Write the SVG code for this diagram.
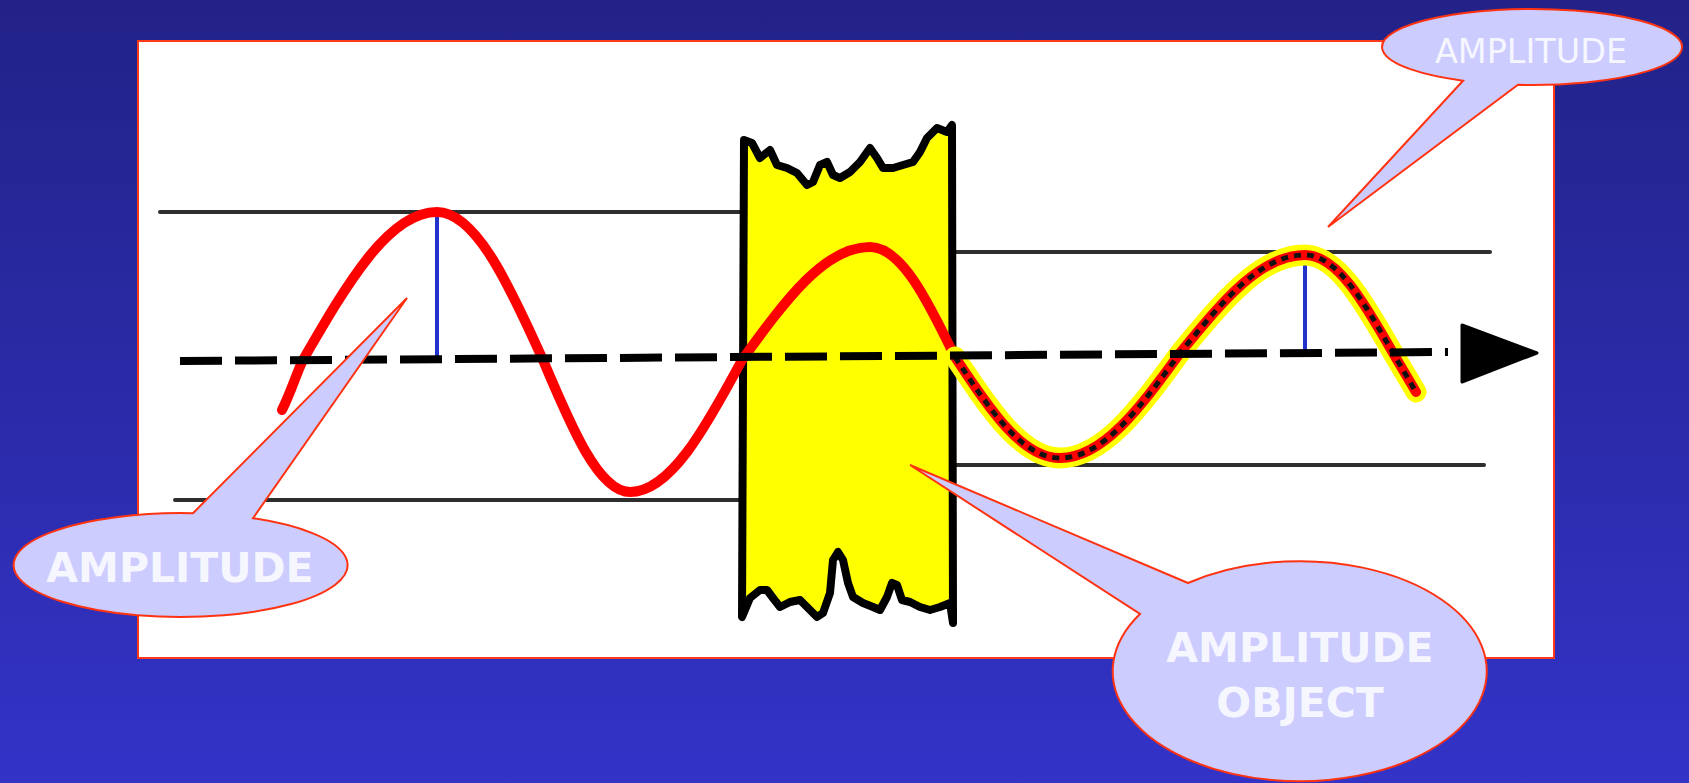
<svg xmlns="http://www.w3.org/2000/svg" width="1689" height="783" viewBox="0 0 1689 783">
  <defs>
    <linearGradient id="bg" x1="0" y1="0" x2="0" y2="1">
      <stop offset="0" stop-color="#222288"/>
      <stop offset="1" stop-color="#3333c8"/>
    </linearGradient>
  </defs>
  <style>
    .guide { stroke: #2e2e2e; stroke-width: 4; fill: none; stroke-linecap: round; }
    .wave { stroke: #ff0000; stroke-width: 10; fill: none; stroke-linecap: round; stroke-linejoin: round; }
    .glow { stroke: #ffff00; stroke-width: 21; fill: none; stroke-linecap: round; }
    .dots { stroke: #111; stroke-width: 5; fill: none; stroke-dasharray: 7 6; }
    .amp { stroke: #2233cc; stroke-width: 4; fill: none; }
    .axis { stroke: #000; stroke-width: 8; fill: none; stroke-dasharray: 42 13; }
    .bubble { fill: #ccccff; stroke: #ff3311; stroke-width: 2; stroke-linejoin: miter; }
    .label { fill: #f6f6ff; font-family: "DejaVu Sans", Verdana, sans-serif; text-anchor: middle; }
    .bold { font-weight: bold; font-size: 41px; }
  </style>

  <!-- backdrop -->
  <rect x="0" y="0" width="1689" height="783" fill="url(#bg)"/>

  <!-- white panel -->
  <g id="panel">
    <rect x="138" y="41" width="1416" height="617" fill="#ffffff" stroke="#ff3a1a" stroke-width="2"/>
  </g>

  <!-- amplitude guide lines -->
  <g id="guides">
    <line class="guide" x1="160" y1="212" x2="744" y2="212"/>
    <line class="guide" x1="175" y1="500" x2="744" y2="500"/>
    <line class="guide" x1="953" y1="252" x2="1490" y2="252"/>
    <line class="guide" x1="953" y1="465" x2="1484" y2="465"/>
  </g>

  <!-- the object the wave passes through -->
  <g id="object">
    <path d="M744,140 L752,143 L760,158 L770,150 L777,165 L787,168 L797,173 L807,185 L813,182 L820,165 L827,162 L833,175 L840,178 L850,172 L860,162 L870,148 L877,158 L883,168 L893,168 L903,165 L913,162 L920,152 L927,138 L937,128 L947,132 L952,125 L953,623 L950,603 L940,607 L930,610 L920,607 L910,602 L902,600 L897,585 L892,583 L887,597 L880,610 L873,607 L863,603 L853,597 L848,583 L843,560 L838,552 L833,560 L830,593 L823,613 L817,617 L807,607 L800,600 L790,602 L780,607 L773,598 L767,590 L760,590 L750,598 L742,617 Z" fill="#ffff00" stroke="#000" stroke-width="8" stroke-linejoin="round"/>
  </g>

  <!-- amplitude markers -->
  <g id="markers">
    <line class="amp" x1="437" y1="214" x2="437" y2="360"/>
    <line class="amp" x1="1305" y1="256" x2="1305" y2="353"/>
  </g>

  <!-- wave before and inside the object -->
  <g id="wave-in">
    <path class="wave" d="M282,410 C291,392 297,372 303,360 C348,282 389,212 437,212 C475,212 508,282 543,360 C572,429 599,492 630,492 C670,492 705,429 742,360 C785,301 824,247 870,247 C901,247 927,299 955,357"/>
  </g>

  <!-- wave after the object, highlighted -->
  <g id="wave-out">
    <path class="glow" d="M955,357 C990,410 1022,458 1060,458 C1103,458 1140,408 1180,353 C1222,302 1260,255 1305,255 C1337,255 1364,302 1393,353 L1416,392"/>
    <path class="wave" d="M955,357 C990,410 1022,458 1060,458 C1103,458 1140,408 1180,353 C1222,302 1260,255 1305,255 C1337,255 1364,302 1393,353 L1416,392"/>
    <path class="dots" d="M955,357 C990,410 1022,458 1060,458 C1103,458 1140,408 1180,353 C1222,302 1260,255 1305,255 C1337,255 1364,302 1393,353 L1416,392"/>
  </g>

  <!-- propagation axis -->
  <g id="connectors">
    <path class="axis" d="M180,361 L1448,352"/>
    <polygon points="1462,325 1537,353 1462,382" fill="#000" stroke="#000" stroke-width="3" stroke-linejoin="round"/>
  </g>

  <!-- callouts -->
  <g id="callout-left">
    <path class="bubble" d="M193,513.2 L407,298 L253,518.2 A167,52 0 1,1 193,513.2 Z"/>
    <text class="label bold" x="180" y="582">AMPLITUDE</text>
  </g>

  <g id="callout-right">
    <path class="bubble" d="M1463,80.7 L1328,227 L1518,84.8 A150,38 0 1,0 1463,80.7 Z"/>
    <text class="label" x="1531" y="63" font-size="33" textLength="192" lengthAdjust="spacingAndGlyphs">AMPLITUDE</text>
  </g>

  <g id="callout-object">
    <path class="bubble" d="M1188,583 L910,465 L1140,614 A187,110 0 1,0 1188,583 Z"/>
    <text class="label bold" x="1300" y="662">AMPLITUDE</text>
    <text class="label bold" x="1300" y="717">OBJECT</text>
  </g>
</svg>
